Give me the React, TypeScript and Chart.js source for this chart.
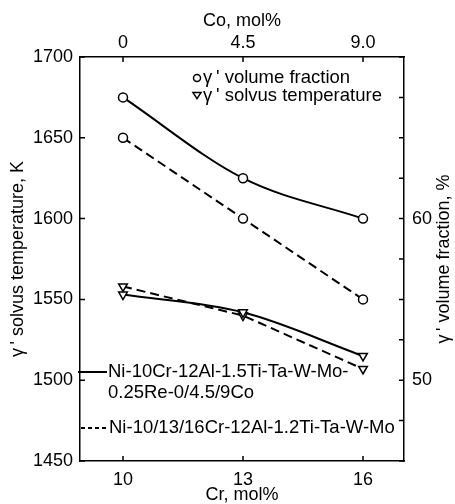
import React, { useEffect, useRef } from "react";
import { Chart, registerables } from "chart.js";

Chart.register(...registerables);

// ---- data ----
const crMol = [10, 13, 16];
const coMol = [0, 4.5, 9.0];
const coTickLabels = ["0", "4.5", "9.0"];
const volFracCoSeries = [67.5, 62.5, 60.0]; // %, Ni-10Cr-...-0/4.5/9Co (solid)
const volFracCrSeries = [65.0, 60.0, 55.0]; // %, Ni-10/13/16Cr-... (dashed)
const solvusCoSeries = [1553, 1542, 1515]; // K (solid)
const solvusCrSeries = [1558, 1540, 1507]; // K (dashed)
const tempTicks = [1450, 1500, 1550, 1600, 1650, 1700];
const fracTicks = [45, 47.5, 50, 52.5, 55, 57.5, 60, 62.5, 65, 67.5, 70];
const fracLabelled = [50, 60];

const legendMarkers = ["γ\u2009' volume fraction", "γ\u2009' solvus temperature"];
const legendCo = ["Ni-10Cr-12Al-1.5Ti-Ta-W-Mo-", "0.25Re-0/4.5/9Co"];
const legendCr = "Ni-10/13/16Cr-12Al-1.2Ti-Ta-W-Mo";
const yTitle = "γ\u2009' solvus temperature, K";
const y2Title = "γ\u2009' volume fraction, %";

const FONT = "'Liberation Sans', Arial, Helvetica, sans-serif";
const FS = 18;
const LFS = 18.5;

function drawTriangleDown(ctx: CanvasRenderingContext2D, x: number, y: number, r: number) {
  ctx.beginPath();
  ctx.moveTo(x - r, y - r * 0.6);
  ctx.lineTo(x + r, y - r * 0.6);
  ctx.lineTo(x, y + r * 0.9);
  ctx.closePath();
  ctx.fillStyle = "#fff";
  ctx.fill();
  ctx.stroke();
}

const decorPlugin = {
  id: "decor",
  afterDraw(chart: any) {
    const ctx: CanvasRenderingContext2D = chart.ctx;
    const { left, right, top, bottom } = chart.chartArea;
    const s = chart.scales;
    ctx.save();
    ctx.strokeStyle = "#000";
    ctx.fillStyle = "#000";
    ctx.lineWidth = 1.5;
    const TL = 5;
    // inward ticks
    ctx.beginPath();
    crMol.forEach((v) => {
      const px = s.x.getPixelForValue(v);
      ctx.moveTo(px, bottom);
      ctx.lineTo(px, bottom - TL);
    });
    coMol.forEach((v) => {
      const px = s.x2.getPixelForValue(v);
      ctx.moveTo(px, top);
      ctx.lineTo(px, top + TL);
    });
    tempTicks.forEach((v) => {
      const py = s.y.getPixelForValue(v);
      ctx.moveTo(left, py);
      ctx.lineTo(left + TL, py);
    });
    fracTicks.forEach((v) => {
      const py = s.y2.getPixelForValue(v);
      ctx.moveTo(right, py);
      ctx.lineTo(right - TL, py);
    });
    ctx.stroke();

    // right axis title (reads bottom to top)
    ctx.save();
    ctx.font = `${FS}px ${FONT}`;
    ctx.textAlign = "center";
    ctx.textBaseline = "middle";
    ctx.translate(444, (top + bottom) / 2);
    ctx.rotate(-Math.PI / 2);
    ctx.fillText(y2Title, 0, 0);
    ctx.restore();

    // marker legend (top right)
    ctx.font = `${LFS}px ${FONT}`;
    ctx.textAlign = "left";
    ctx.textBaseline = "middle";
    const mx = left + 117;
    const my1 = top + 21;
    const my2 = top + 39;
    ctx.lineWidth = 1.5;
    ctx.beginPath();
    ctx.arc(mx, my1, 3.5, 0, Math.PI * 2);
    ctx.fillStyle = "#fff";
    ctx.fill();
    ctx.stroke();
    drawTriangleDown(ctx, mx, my2 - 1, 4);
    ctx.fillStyle = "#000";
    ctx.fillText(legendMarkers[0], mx + 6, my1);
    ctx.fillText(legendMarkers[1], mx + 6, my2);

    // line-style legend (bottom left)
    const ly1 = top + 315;
    const ly3 = top + 371;
    ctx.lineWidth = 2;
    ctx.beginPath();
    ctx.moveTo(left - 2, ly1);
    ctx.lineTo(left + 27, ly1);
    ctx.stroke();
    ctx.setLineDash([4, 3]);
    ctx.beginPath();
    ctx.moveTo(left + 1, ly3);
    ctx.lineTo(left + 28, ly3);
    ctx.stroke();
    ctx.setLineDash([]);
    ctx.fillText(legendCo[0], left + 28, ly1);
    ctx.fillText(legendCo[1], left + 28, ly1 + 21);
    ctx.fillText(legendCr, left + 29, ly3);
    ctx.restore();
  },
};

function pts(xs: number[], ys: number[]) {
  return xs.map((x, i) => ({ x, y: ys[i] }));
}

export default function App() {
  const ref = useRef<HTMLCanvasElement | null>(null);
  useEffect(() => {
    if (!ref.current) return;
    Chart.defaults.font.family = FONT;
    Chart.defaults.font.size = FS;
    Chart.defaults.color = "#000";
    const common = {
      borderColor: "#000",
      borderWidth: 2,
      pointBorderColor: "#000",
      pointBackgroundColor: "#fff",
      pointBorderWidth: 1.5,
      fill: false,
    };
    const chart = new Chart(ref.current, {
      type: "line",
      data: {
        datasets: [
          {
            ...common,
            label: "vol frac Co",
            data: pts(crMol, volFracCoSeries),
            yAxisID: "y2",
            xAxisID: "x",
            cubicInterpolationMode: "monotone",
            pointStyle: "circle",
            pointRadius: 4.5,
          },
          {
            ...common,
            label: "vol frac Cr",
            data: pts(crMol, volFracCrSeries),
            yAxisID: "y2",
            xAxisID: "x",
            borderDash: [9, 5],
            tension: 0,
            pointStyle: "circle",
            pointRadius: 4.5,
          },
          {
            ...common,
            label: "solvus Co",
            data: pts(crMol, solvusCoSeries),
            yAxisID: "y",
            xAxisID: "x",
            cubicInterpolationMode: "monotone",
            pointStyle: "triangle",
            pointRotation: 180,
            pointRadius: 5,
          },
          {
            ...common,
            label: "solvus Cr",
            data: pts(crMol, solvusCrSeries),
            yAxisID: "y",
            xAxisID: "x",
            borderDash: [9, 5],
            tension: 0,
            pointStyle: "triangle",
            pointRotation: 180,
            pointRadius: 5,
          },
        ],
      },
      options: {
        animation: false,
        responsive: false,
        layout: { padding: 0 },
        plugins: { legend: { display: false }, tooltip: { enabled: false } },
        scales: {
          x: {
            type: "linear",
            position: "bottom",
            min: 8.925,
            max: 17.025,
            afterBuildTicks: (sc: any) => {
              sc.ticks = crMol.map((v) => ({ value: v }));
            },
            afterFit: (sc: any) => {
              sc.height = 43;
            },
            ticks: { padding: 8, maxRotation: 0, callback: (v: any) => String(v) },
            grid: { display: false, drawTicks: false },
            border: { display: true, color: "#000", width: 1.5 },
            title: {
              display: true,
              text: "Cr, mol%",
              font: { lineHeight: 1 },
              padding: { top: 0, bottom: 0 },
            },
          },
          x2: {
            type: "linear",
            position: "top",
            min: -1.6125,
            max: 10.5375,
            afterBuildTicks: (sc: any) => {
              sc.ticks = coMol.map((v) => ({ value: v }));
            },
            afterFit: (sc: any) => {
              sc.height = 57;
            },
            ticks: {
              padding: 3,
              maxRotation: 0,
              callback: (v: any) => {
                const i = coMol.indexOf(Number(v));
                return i >= 0 ? coTickLabels[i] : "";
              },
            },
            grid: { display: false, drawTicks: false },
            border: { display: true, color: "#000", width: 1.5 },
            title: { display: true, text: "Co, mol%", padding: { top: 10, bottom: 0 } },
          },
          y: {
            type: "linear",
            position: "left",
            min: 1450,
            max: 1700,
            afterBuildTicks: (sc: any) => {
              sc.ticks = tempTicks.map((v) => ({ value: v }));
            },
            afterFit: (sc: any) => {
              sc.width = 80;
            },
            ticks: { padding: 7, callback: (v: any) => String(v) },
            grid: { display: false, drawTicks: false },
            border: { display: true, color: "#000", width: 1.5 },
            title: { display: true, text: yTitle, padding: { top: 7, bottom: 0 } },
          },
          y2: {
            type: "linear",
            position: "right",
            min: 45,
            max: 70,
            afterBuildTicks: (sc: any) => {
              sc.ticks = fracTicks.map((v) => ({ value: v }));
            },
            afterFit: (sc: any) => {
              sc.width = 51;
            },
            ticks: {
              padding: 8,
              callback: (v: any) => (fracLabelled.includes(Number(v)) ? String(v) : ""),
            },
            grid: { display: false, drawTicks: false },
            border: { display: true, color: "#000", width: 1.5 },
          },
        },
      },
      plugins: [decorPlugin],
    } as any);
    return () => chart.destroy();
  }, []);
  return (
    <div style={{ position: "fixed", left: 0, top: 0, width: 455, height: 504, background: "#fff" }}>
      <canvas ref={ref} width={455} height={504} />
    </div>
  );
}
